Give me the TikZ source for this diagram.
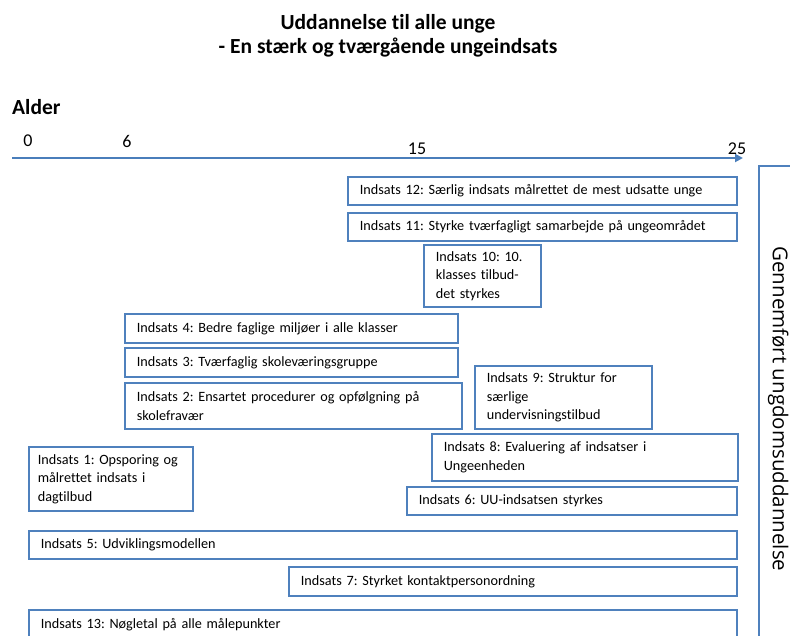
\documentclass[tikz,border=0pt]{standalone}
\usepackage{fontspec}
\setmainfont{Carlito}[Ligatures=CommonOff]
\newfontfamily\sidefont{Open Sans}
\usepackage{tikz}
\usetikzlibrary{arrows.meta}
\definecolor{boxblue}{RGB}{79,129,189}
\definecolor{axisblue}{RGB}{74,126,187}
\frenchspacing
\tikzset{indsats/.style={draw=boxblue,line width=1.7pt,fill=white,anchor=north west,
                    align=left,inner xsep=12pt,inner ysep=0pt,
                    font=\fontsize{14.2}{18.5}\selectfont},
         tick/.style={font=\fontsize{18}{20}\selectfont},
         heading/.style={font=\fontsize{21.5}{23.5}\selectfont\bfseries}
}

\begin{document}
\begin{tikzpicture}[x=1pt,y=-1pt]
                    \useasboundingbox (0,0) rectangle (790,636);
                    \node[heading,align=center] (title) at (388,36) {Uddannelse til alle unge\\- En stærk og tværgående ungeindsats};
                    \node[heading,anchor=west,inner sep=0pt] (alder) at (12,107) {Alder};
                    % aldersakse
                    \coordinate (a0) at (12,158);
                    \coordinate (a25) at (743,158);
                    \draw[axisblue,line width=2.6pt,-{Triangle[length=8pt,width=8pt]}] (a0) -- (a25);
                    \foreach \a/\x/\y in {0/28/141,6/127/141,15/417/149,25/737/149}
                    {
                        \node[tick] (t\a) at (\x,\y) {\a};
                    }
                    % indsatser
                    \node[indsats,text width=365pt,minimum height=28pt] (i12) at (347,176) {Indsats 12: Særlig indsats målrettet de mest udsatte unge};
                    \node[indsats,text width=365pt,minimum height=28pt] (i11) at (347,212) {Indsats 11: Styrke tværfagligt samarbejde på ungeområdet};
                    \node[indsats,text width=93pt,minimum height=62pt] (i10) at (423,244) {Indsats 10: 10.\\klasses tilbud-\\det styrkes};
                    \node[indsats,text width=309pt,minimum height=29pt] (i4) at (124,313) {Indsats 4: Bedre faglige miljøer i alle klasser};
                    \node[indsats,text width=309pt,minimum height=29pt] (i3) at (124,347) {Indsats 3: Tværfaglig skoleværingsgruppe};
                    \node[indsats,text width=313pt,minimum height=46pt] (i2) at (124,382) {Indsats 2: Ensartet procedurer og opfølgning på\\skolefravær};
                    \node[indsats,text width=153pt,minimum height=63pt] (i9) at (474,365) {Indsats 9: Struktur for\\særlige\\undervisningstilbud};
                    \node[indsats,text width=282pt,minimum height=47pt] (i8) at (431,433) {Indsats 8: Evaluering af indsatser i\\Ungeenheden};
                    \node[indsats,inner xsep=9pt,text width=146pt,minimum height=64pt] (i1) at (28,446) {Indsats 1: Opsporing og\\målrettet indsats i\\dagtilbud};
                    \node[indsats,text width=306pt,minimum height=28pt] (i6) at (406,486) {Indsats 6: UU-indsatsen styrkes};
                    \node[indsats,text width=684pt,minimum height=28pt] (i5) at (28,530) {Indsats 5: Udviklingsmodellen};
                    \node[indsats,text width=424pt,minimum height=29pt] (i7) at (288,566) {Indsats 7: Styrket kontaktpersonordning};
                    \node[indsats,text width=684pt,minimum height=29pt] (i13) at (28,609) {Indsats 13: Nøgletal på alle målepunkter};
                    \node[indsats,rotate=-90,anchor=south west,align=center,inner xsep=0pt,
                          minimum width=486pt,minimum height=39pt,
                          font=\fontsize{20.5}{22}\selectfont\sidefont] (gen) at (758,165) {Gennemført ungdomsuddannelse};
                \end{tikzpicture}
\end{document}
